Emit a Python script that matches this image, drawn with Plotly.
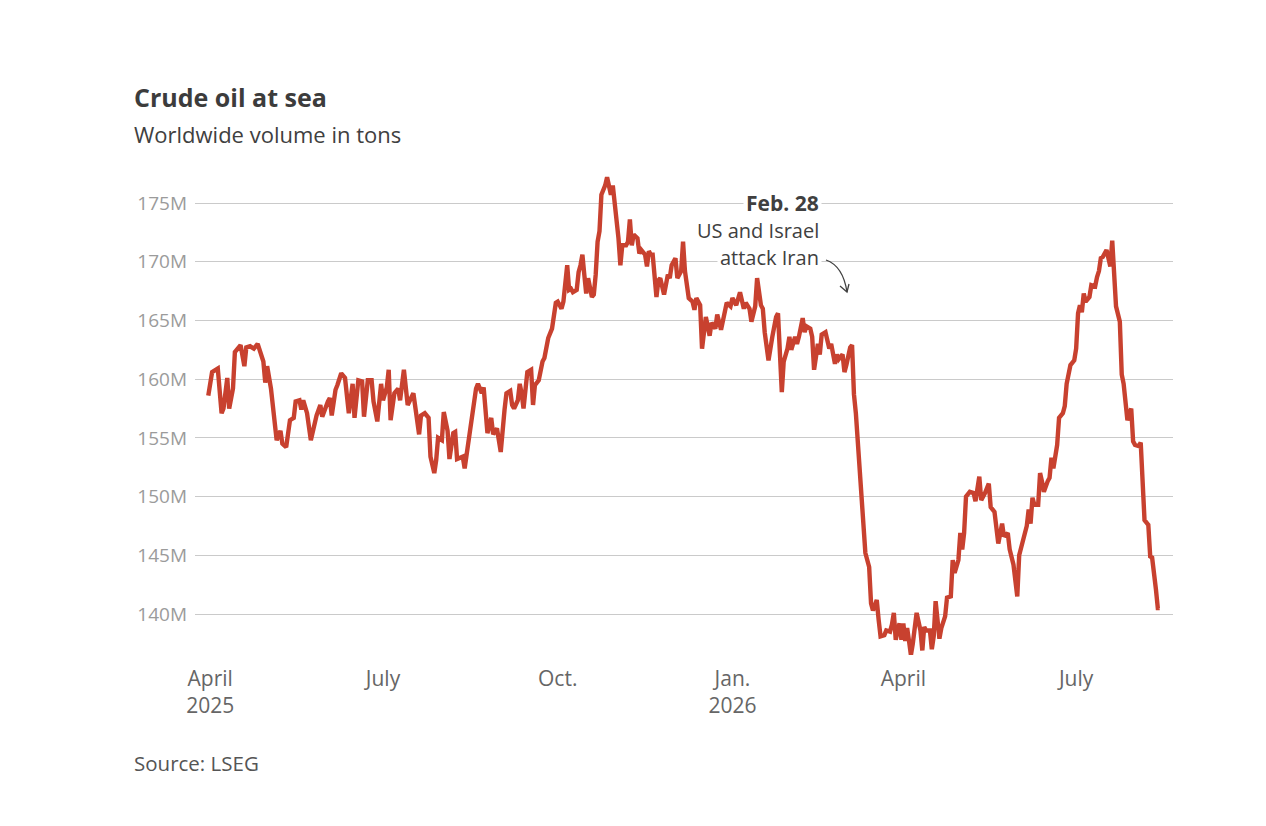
import plotly.graph_objects as go

# Crude oil at sea, million tons
dates_2025 = [
    "2025-03-31", "2025-04-02", "2025-04-05", "2025-04-07", "2025-04-08", "2025-04-10", "2025-04-11",
    "2025-04-13", "2025-04-14", "2025-04-16", "2025-04-17", "2025-04-19", "2025-04-20", "2025-04-22",
    "2025-04-24", "2025-04-26", "2025-04-27", "2025-04-29", "2025-04-30", "2025-05-01", "2025-05-03",
    "2025-05-06", "2025-05-08", "2025-05-09", "2025-05-11", "2025-05-13", "2025-05-15", "2025-05-16",
    "2025-05-18", "2025-05-19", "2025-05-20", "2025-05-22", "2025-05-24", "2025-05-25", "2025-05-27",
    "2025-05-29", "2025-05-30", "2025-06-02", "2025-06-03", "2025-06-04", "2025-06-06", "2025-06-07",
    "2025-06-09", "2025-06-11", "2025-06-13", "2025-06-15", "2025-06-16", "2025-06-18", "2025-06-20",
    "2025-06-21", "2025-06-23", "2025-06-25", "2025-06-26", "2025-06-28", "2025-06-30", "2025-07-01",
    "2025-07-03", "2025-07-04", "2025-07-05", "2025-07-07", "2025-07-09", "2025-07-10", "2025-07-12",
    "2025-07-14", "2025-07-16", "2025-07-17", "2025-07-20", "2025-07-21", "2025-07-23", "2025-07-25",
    "2025-07-26", "2025-07-28", "2025-07-29", "2025-07-30", "2025-08-01", "2025-08-02", "2025-08-04",
    "2025-08-05", "2025-08-07", "2025-08-08", "2025-08-09", "2025-08-12", "2025-08-13", "2025-08-15",
    "2025-08-16", "2025-08-18", "2025-08-19", "2025-08-20", "2025-08-22", "2025-08-23", "2025-08-24",
    "2025-08-25", "2025-08-27", "2025-08-28", "2025-08-30", "2025-09-01", "2025-09-03", "2025-09-04",
    "2025-09-06", "2025-09-07", "2025-09-08", "2025-09-10", "2025-09-11", "2025-09-12", "2025-09-13",
    "2025-09-15", "2025-09-17", "2025-09-18", "2025-09-19", "2025-09-21", "2025-09-23", "2025-09-24",
    "2025-09-26", "2025-09-28", "2025-09-30", "2025-10-01", "2025-10-03", "2025-10-04", "2025-10-06",
    "2025-10-07", "2025-10-08", "2025-10-09", "2025-10-11", "2025-10-12", "2025-10-13", "2025-10-14",
    "2025-10-15", "2025-10-16", "2025-10-17", "2025-10-19", "2025-10-20", "2025-10-21", "2025-10-22",
    "2025-10-23", "2025-10-24", "2025-10-26", "2025-10-27", "2025-10-29", "2025-10-30", "2025-10-31",
    "2025-11-01", "2025-11-02", "2025-11-03", "2025-11-04", "2025-11-06", "2025-11-07", "2025-11-08",
    "2025-11-09", "2025-11-10", "2025-11-12", "2025-11-13", "2025-11-14", "2025-11-16", "2025-11-17",
    "2025-11-18", "2025-11-19", "2025-11-20", "2025-11-22", "2025-11-23", "2025-11-24", "2025-11-26",
    "2025-11-28", "2025-11-29", "2025-11-30", "2025-12-02", "2025-12-03", "2025-12-05", "2025-12-06",
    "2025-12-07", "2025-12-09", "2025-12-11", "2025-12-12", "2025-12-13", "2025-12-15", "2025-12-16",
    "2025-12-18", "2025-12-20", "2025-12-21", "2025-12-23", "2025-12-24", "2025-12-26", "2025-12-27",
    "2025-12-29", "2025-12-31",
]
volume_2025 = [
    158.6, 160.6, 160.9, 157.1, 157.5, 160.1, 157.5,
    159.2, 162.3, 162.7, 162.9, 161.1, 162.7, 162.8,
    162.6, 163.0, 162.5, 161.5, 159.7, 161.1, 159.2,
    154.8, 155.6, 154.5, 154.2, 156.5, 156.7, 158.1,
    158.2, 157.4, 158.2, 157.1, 154.8, 155.6, 156.9,
    157.8, 156.8, 158.1, 158.4, 156.9, 159.1, 159.5,
    160.5, 160.1, 157.1, 159.6, 156.7, 159.9, 159.8,
    156.8, 159.9, 159.9, 158.1, 156.4, 159.6, 158.2,
    159.3, 160.8, 156.5, 158.8, 159.2, 158.2, 160.8,
    157.8, 158.4, 158.8, 155.3, 156.9, 157.1, 156.7,
    153.4, 152.0, 153.1, 155.0, 154.8, 157.2, 155.6,
    153.2, 155.4, 155.5, 153.2, 153.4, 152.4, 154.8,
    155.8, 158.6, 159.2, 159.6, 158.8, 159.3, 157.6,
    155.4, 156.7, 155.3, 155.8, 153.8, 157.4, 158.8,
    159.0, 157.8, 157.5, 158.2, 159.6, 158.8, 157.5,
    160.6, 160.8, 157.8, 159.5, 159.9, 161.5, 161.8,
    163.5, 164.3, 166.5, 166.6, 166.0, 166.6, 169.7,
    167.6, 167.7, 167.4, 167.6, 169.1, 169.7, 170.6,
    168.9, 167.3, 168.6, 167.0, 167.2, 168.9, 171.7,
    172.6, 175.7, 176.5, 177.2, 175.7, 176.5, 175.1,
    174.0, 172.0, 169.7, 171.4, 171.4, 171.7, 173.6,
    171.4, 172.3, 172.0, 170.7, 171.0, 170.6, 169.6,
    170.9, 170.6, 170.6, 167.0, 168.4, 168.6, 167.2,
    168.9, 168.6, 169.7, 170.3, 168.6, 169.2, 171.7,
    169.2, 166.9, 166.6, 165.9, 166.9, 166.3, 162.6,
    165.3, 163.7, 164.8, 164.3, 165.5, 164.2, 165.0,
    166.5, 166.2,
]

dates_2026 = [
    "2026-01-01", "2026-01-03", "2026-01-04", "2026-01-05", "2026-01-07", "2026-01-08", "2026-01-10",
    "2026-01-11", "2026-01-13", "2026-01-14", "2026-01-16", "2026-01-17", "2026-01-18", "2026-01-20",
    "2026-01-22", "2026-01-24", "2026-01-25", "2026-01-26", "2026-01-27", "2026-01-28", "2026-01-30",
    "2026-01-31", "2026-02-01", "2026-02-03", "2026-02-04", "2026-02-05", "2026-02-07", "2026-02-08",
    "2026-02-09", "2026-02-11", "2026-02-12", "2026-02-13", "2026-02-15", "2026-02-16", "2026-02-17",
    "2026-02-19", "2026-02-20", "2026-02-21", "2026-02-22", "2026-02-24", "2026-02-25", "2026-02-26",
    "2026-02-28", "2026-03-01", "2026-03-02", "2026-03-04", "2026-03-05", "2026-03-06", "2026-03-07",
    "2026-03-08", "2026-03-09", "2026-03-11", "2026-03-12", "2026-03-14", "2026-03-15", "2026-03-16",
    "2026-03-18", "2026-03-19", "2026-03-20", "2026-03-22", "2026-03-23", "2026-03-25", "2026-03-26",
    "2026-03-27", "2026-03-28", "2026-03-29", "2026-03-30", "2026-03-31", "2026-04-01", "2026-04-02",
    "2026-04-03", "2026-04-04", "2026-04-05", "2026-04-06", "2026-04-08", "2026-04-10", "2026-04-11",
    "2026-04-12", "2026-04-13", "2026-04-15", "2026-04-16", "2026-04-17", "2026-04-18", "2026-04-20",
    "2026-04-21", "2026-04-23", "2026-04-24", "2026-04-26", "2026-04-27", "2026-04-28", "2026-04-30",
    "2026-05-01", "2026-05-02", "2026-05-03", "2026-05-04", "2026-05-06", "2026-05-08", "2026-05-09",
    "2026-05-11", "2026-05-12", "2026-05-14", "2026-05-16", "2026-05-17", "2026-05-19", "2026-05-20",
    "2026-05-21", "2026-05-23", "2026-05-24", "2026-05-26", "2026-05-27", "2026-05-29", "2026-05-31",
    "2026-06-01", "2026-06-03", "2026-06-05", "2026-06-06", "2026-06-07", "2026-06-08", "2026-06-09",
    "2026-06-11", "2026-06-12", "2026-06-13", "2026-06-14", "2026-06-16", "2026-06-17", "2026-06-18",
    "2026-06-19", "2026-06-21", "2026-06-22", "2026-06-24", "2026-06-25", "2026-06-26", "2026-06-28",
    "2026-06-30", "2026-07-01", "2026-07-02", "2026-07-03", "2026-07-04", "2026-07-05", "2026-07-06",
    "2026-07-08", "2026-07-09", "2026-07-11", "2026-07-12", "2026-07-13", "2026-07-14", "2026-07-15",
    "2026-07-17", "2026-07-18", "2026-07-19", "2026-07-20", "2026-07-21", "2026-07-22", "2026-07-24",
    "2026-07-25", "2026-07-26", "2026-07-27", "2026-07-28", "2026-07-30", "2026-07-31", "2026-08-01",
    "2026-08-03", "2026-08-04", "2026-08-05", "2026-08-06", "2026-08-08", "2026-08-09", "2026-08-10",
    "2026-08-11", "2026-08-12", "2026-08-13", "2026-08-14",
]
volume_2026 = [
    166.9, 166.3, 166.9, 167.4, 166.0, 166.5, 166.0,
    164.9, 166.2, 168.6, 166.3, 166.0, 164.0, 161.6,
    163.6, 165.3, 165.6, 161.7, 158.9, 161.5, 162.6,
    163.6, 162.5, 163.6, 163.0, 163.6, 165.2, 164.0,
    164.5, 164.3, 163.6, 160.8, 163.0, 162.1, 163.8,
    164.0, 163.3, 162.6, 163.0, 161.3, 162.1, 161.7,
    162.1, 160.6, 161.2, 162.7, 162.9, 158.7, 157.1,
    154.8, 151.4, 148.0, 145.2, 144.0, 140.9, 140.3,
    141.2, 139.5, 138.1, 138.2, 138.6, 138.5, 139.1,
    140.1, 137.8, 138.6, 139.2, 137.8, 139.2, 137.7,
    138.8, 137.7, 136.5, 137.5, 140.1, 138.6, 136.9,
    138.9, 138.6, 138.6, 137.0, 138.1, 141.1, 137.9,
    138.8, 139.8, 141.4, 141.5, 144.6, 143.5, 144.6,
    146.9, 145.5, 146.9, 150.0, 150.4, 150.3, 149.6,
    151.7, 149.7, 150.3, 151.1, 149.1, 148.7, 147.1,
    146.0, 147.7, 146.6, 146.9, 145.5, 144.2, 141.5,
    145.0, 146.4, 147.5, 148.9, 147.7, 149.9, 149.3,
    149.3, 152.0, 151.3, 150.4, 151.3, 151.6, 153.3,
    152.4, 154.4, 156.7, 157.1, 157.7, 159.6, 161.2,
    161.6, 162.6, 165.6, 166.3, 165.7, 167.3, 166.6,
    167.0, 168.0, 167.9, 168.7, 169.2, 170.3, 170.4,
    171.0, 170.4, 169.6, 171.8, 169.4, 166.2, 164.9,
    160.4, 159.6, 157.8, 156.5, 157.5, 154.7, 154.4,
    154.3, 154.6, 151.6, 148.0, 147.6, 144.9, 144.8,
    143.0, 142.1, 140.5, 140.5,
]

x_tick_dates = ["2025-04-01", "2025-07-01", "2025-10-01", "2026-01-01", "2026-04-01", "2026-07-01"]
x_tick_labels = ["April<br>2025", "July", "Oct.", "Jan.<br>2026", "April", "July"]
y_tick_vals = [140, 145, 150, 155, 160, 165, 170, 175]
y_tick_labels = ["140M", "145M", "150M", "155M", "160M", "165M", "170M", "175M"]

FONT = "Open Sans"
W, H = 1266, 826
# the page draws the figure about 8px right / 8px down, so margins are shifted back
OX, OY = 8, 8
PLOT_X0, PLOT_X1 = 195, 1173   # plot area on screen
PLOT_Y0, PLOT_Y1 = 170, 655
L, T = PLOT_X0 - OX, PLOT_Y0 - OY
R = W - L - (PLOT_X1 - PLOT_X0)
B = H - T - (PLOT_Y1 - PLOT_Y0)


def px(p):
    # screen x -> paper
    return (p - PLOT_X0) / (PLOT_X1 - PLOT_X0)


def py(p):
    # screen y -> paper
    return (PLOT_Y1 - p) / (PLOT_Y1 - PLOT_Y0)


fig = go.Figure()
fig.add_scatter(
    x=dates_2025 + dates_2026,
    y=volume_2025 + volume_2026,
    mode="lines",
    line=dict(color="#c8412f", width=4.4),
    hoverinfo="skip",
)

fig.update_xaxes(
    range=["2025-03-24", "2026-08-21"],
    tickvals=x_tick_dates,
    ticktext=x_tick_labels,
    showgrid=False,
    zeroline=False,
    showline=False,
    ticks="",
    tickfont=dict(family=FONT, size=21, color="#666666"),
    ticklabelstandoff=9,
)
fig.update_yaxes(
    range=[136.51, 177.81],
    tickvals=y_tick_vals,
    ticktext=y_tick_labels,
    showgrid=True,
    gridcolor="#cacaca",
    gridwidth=1,
    zeroline=False,
    showline=False,
    ticks="",
    tickfont=dict(family=FONT, size=19, color="#9b9b9b"),
    ticklabelstandoff=7,
)

annots = [
    dict(x=px(132), y=py(97), text="<b>Crude oil at sea</b>", xanchor="left", yanchor="middle",
         font=dict(family=FONT, size=25, color="#3c3c3c")),
    dict(x=px(132), y=py(134), text="Worldwide volume in tons", xanchor="left", yanchor="middle",
         font=dict(family=FONT, size=22, color="#404040")),
    dict(x=px(132), y=py(763), text="Source: LSEG", xanchor="left", yanchor="middle",
         font=dict(family=FONT, size=20.5, color="#555555")),
    dict(x=px(822), y=py(203), text="<b>Feb. 28</b>", xanchor="right", yanchor="middle",
         bgcolor="white", borderpad=2, font=dict(family=FONT, size=21, color="#404040")),
    dict(x=px(822), y=py(230), text="US and Israel", xanchor="right", yanchor="middle",
         bgcolor="white", borderpad=2, font=dict(family=FONT, size=20, color="#404040")),
    dict(x=px(822), y=py(257), text="attack Iran", xanchor="right", yanchor="middle",
         bgcolor="white", borderpad=2, font=dict(family=FONT, size=20, color="#404040")),
]
for a in annots:
    fig.add_annotation(xref="paper", yref="paper", showarrow=False, **a)

# curved arrow pointing at the drop
fig.add_shape(
    type="path", xref="paper", yref="paper",
    path=f"M {px(826)},{py(260)} Q {px(843)},{py(266)} {px(847)},{py(292)}",
    line=dict(color="#404040", width=1.3),
)
fig.add_shape(
    type="path", xref="paper", yref="paper",
    path=f"M {px(840)},{py(286)} L {px(847)},{py(292)} L {px(849)},{py(284)}",
    line=dict(color="#404040", width=1.3),
)

fig.update_layout(
    width=W, height=H,
    margin=dict(l=L, r=R, t=T, b=B),
    plot_bgcolor="white",
    paper_bgcolor="white",
    showlegend=False,
    font=dict(family=FONT),
)

fig.write_html("out.html")
